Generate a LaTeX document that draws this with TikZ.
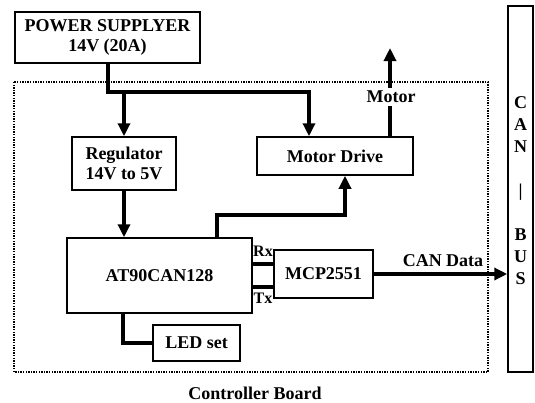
\documentclass[tikz,border=0pt]{standalone}
\usepackage{fontspec}
\setmainfont{Liberation Serif}
\usetikzlibrary{arrows.meta,calc}
\begin{document}
\begin{tikzpicture}[x=1pt,y=-1pt,
  txt/.style={font=\fontsize{18}{20}\selectfont\bfseries, align=center},
  blk/.style={txt, draw, line width=1.5pt, inner sep=0pt},
  small/.style={font=\fontsize{16}{18}\selectfont\bfseries, inner sep=0pt},
  pw/.style={line width=4pt},
  arr/.style={pw, -{Triangle[length=13pt,width=12pt]}},
  board/.style={line width=1.6pt, dash pattern=on 1.4pt off 1.2pt}]
\useasboundingbox (0,0) rectangle (535,402);

\draw[board] (14,82) rectangle (488,372);

\node[blk, minimum width=185pt, minimum height=51pt] (ps) at (107.5,37.5) {POWER SUPPLYER\\14V (20A)};
\node[blk, minimum width=104pt, minimum height=53pt] (reg) at (124,163.5) {Regulator\\14V to 5V};
\node[blk, minimum width=156pt, minimum height=38pt] (md) at (335,156) {Motor Drive};
\node[blk, minimum width=185pt, minimum height=75pt] (at) at (159.5,275.5) {AT90CAN128};
\node[blk, minimum width=87pt, minimum height=36pt] (led) at (196.5,343) {LED set};
\node[blk, minimum width=99pt, minimum height=48pt] (mcp) at (323.5,274) {MCP2551};
\node[draw, line width=1.5pt, minimum width=25pt, minimum height=366pt, inner sep=0pt] (bus) at (520.5,189) {};
\node[font=\fontsize{18}{22}\selectfont\bfseries, align=center, inner sep=0pt] (buslbl) at (520.5,191) {C\\A\\N\\\strut\\|\\\strut\\B\\U\\S};

\node[txt, inner sep=3pt] (mot) at (391,97) {Motor};
\node[txt, inner sep=0pt] (cand) at (443,261) {CAN Data};
\node[txt, inner sep=0pt] (cb) at (255,393) {Controller Board};
\node[small] (rx) at (263,251) {Rx};
\node[small] (tx) at (263,298) {Tx};

\coordinate (j) at (309,92);
\coordinate (k) at (345,215);
\coordinate (mx) at (390,48);

\draw[arr] (ps.south) |- (j) -- (j |- md.north);
\draw[arr] (reg.north |- j) -- (reg.north);
\draw[arr] (reg.south) -- (reg.south |- at.north);
\draw[arr] ([xshift=57.5pt]at.north) |- (k) -- (k |- md.south);
\draw[pw] (mx |- md.north) -- (mx |- mot.south);
\draw[arr] (mx |- mot.north) -- (mx);
\draw[pw] ([xshift=-36.5pt]at.south) |- (led.west);
\draw[pw] ([yshift=12pt]at.east) -- ([yshift=12pt]at.east -| mcp.west);
\draw[pw] ([yshift=-11pt]at.east) -- ([yshift=-11pt]at.east -| mcp.west);
\draw[arr] (mcp.east) -- (mcp.east -| bus.west);
\end{tikzpicture}
\end{document}
